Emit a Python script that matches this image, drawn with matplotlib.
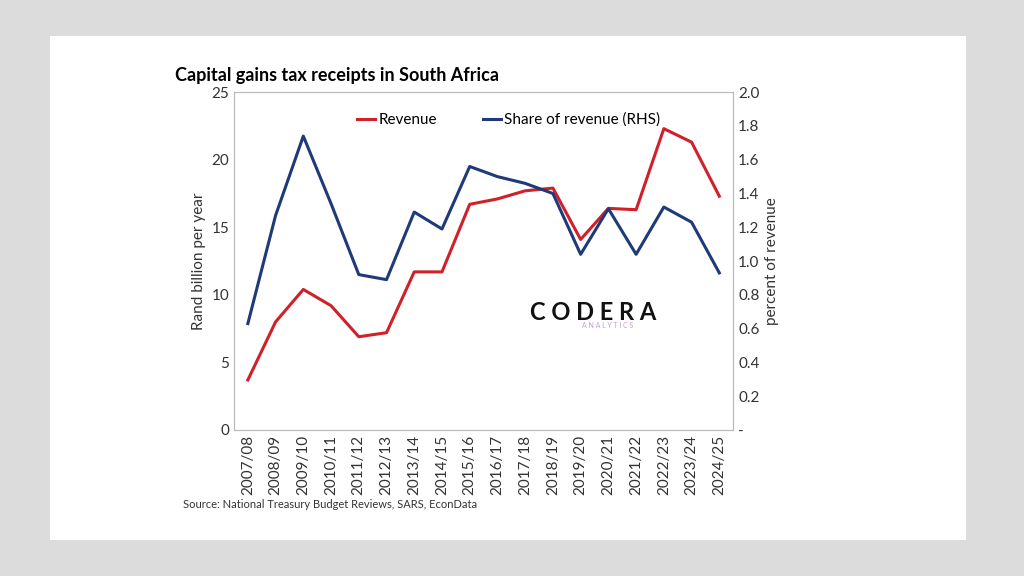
import matplotlib
matplotlib.use('Agg')
import matplotlib.pyplot as plt
from matplotlib.patches import Rectangle

plt.rcParams['font.family'] = ['Lato', 'DejaVu Sans']

years = ['2007/08', '2008/09', '2009/10', '2010/11', '2011/12', '2012/13', '2013/14',
         '2014/15', '2015/16', '2016/17', '2017/18', '2018/19', '2019/20', '2020/21',
         '2021/22', '2022/23', '2023/24', '2024/25']
revenue = [3.7, 8.0, 10.4, 9.2, 6.9, 7.2, 11.7, 11.7, 16.7, 17.1, 17.7, 17.9,
           14.1, 16.4, 16.3, 22.3, 21.3, 17.3]
share = [0.63, 1.27, 1.74, 1.34, 0.92, 0.89, 1.29, 1.19, 1.56, 1.50, 1.46, 1.40,
         1.04, 1.31, 1.04, 1.32, 1.23, 0.93]

RED = '#d0202a'
BLUE = '#1f3a78'

fig = plt.figure(figsize=(10.24, 5.76), dpi=100, facecolor='#dcdcdc')
fig.patches.append(Rectangle((50 / 1024, 1 - 540 / 576), 916 / 1024, 504 / 576,
                             transform=fig.transFigure, facecolor='white',
                             edgecolor='none', zorder=-10))

ax = fig.add_axes([0.2285, 0.2535, 0.4875, 0.5865])
ax2 = ax.twinx()
x = range(len(years))
l1, = ax.plot(x, revenue, color=RED, lw=2.2, label='Revenue')
l2, = ax2.plot(x, share, color=BLUE, lw=2.2, label='Share of revenue (RHS)')

ax.set_xlim(-0.5, len(years) - 0.5)
ax.set_ylim(0, 25)
ax2.set_ylim(0, 2.0)
ax.set_yticks(range(0, 26, 5))
ax2.set_yticks([i * 0.2 for i in range(11)])
ax2.set_yticklabels(['-'] + [f'{i * 0.2:.1f}' for i in range(1, 11)])
ax.set_xticks(list(x))
ax.set_xticklabels(years, rotation=90)
for a in (ax, ax2):
    a.tick_params(length=0, labelsize=11, colors='#333333')
    for s in a.spines.values():
        s.set_color('#bbbbbb')
ax.set_ylabel('Rand billion per year', fontsize=11, color='#333333')
ax2.set_ylabel('percent of revenue', fontsize=11, color='#333333')

ax.legend(handles=[l1, l2], loc='upper center', bbox_to_anchor=(0.55, 0.98), ncol=2,
          frameon=False, fontsize=11, handlelength=1.2, handletextpad=0.2,
          columnspacing=3)

fig.text(175 / 1024, 1 - 75 / 576, 'Capital gains tax receipts in South Africa',
         fontsize=13, fontweight='bold', va='center')
fig.text(183 / 1024, 1 - 505 / 576,
         'Source: National Treasury Budget Reviews, SARS, EconData',
         fontsize=8, va='center', color='#333333')
fig.text(530 / 1024, 1 - 312 / 576, 'C O D E R A', fontsize=17, fontweight='bold',
         va='center', color='#111111')
fig.text(582 / 1024, 1 - 326 / 576, 'A N A L Y T I C S', fontsize=5, va='center',
         color='#c9a0c8')

fig.savefig('out.png', dpi=100, facecolor=fig.get_facecolor())
